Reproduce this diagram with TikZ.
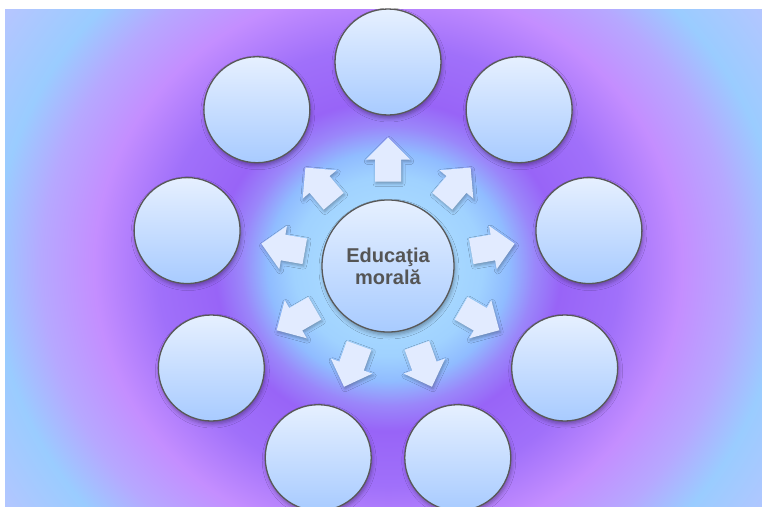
\documentclass[tikz,border=0pt]{standalone}
\usepackage{fontspec}
\setmainfont{Liberation Sans}
\usetikzlibrary{shadows.blur}
\definecolor{bg0}{HTML}{B4E4FF}
\definecolor{bg1}{HTML}{A0D2FF}
\definecolor{bg2}{HTML}{90BCFF}
\definecolor{bg3}{HTML}{9A86FA}
\definecolor{bg4}{HTML}{9864F7}
\definecolor{bg5}{HTML}{A070FA}
\definecolor{bg6}{HTML}{C48EFF}
\definecolor{bg7}{HTML}{B6A8FF}
\definecolor{bg8}{HTML}{9ACCFF}
\definecolor{bg9}{HTML}{BCC4FF}
\definecolor{circtop}{HTML}{E6F0FF}
\definecolor{circbot}{HTML}{A8CBFF}
\definecolor{circline}{HTML}{585858}
\definecolor{arrowc}{HTML}{E2EBFF}
\definecolor{txt}{HTML}{555555}
\pgfdeclareradialshading{bgshade}{\pgfpoint{0bp}{0bp}}{%
color(0bp)=(bg0); color(4.5bp)=(bg1); color(5.75bp)=(bg2); color(7bp)=(bg3);
color(8.25bp)=(bg4); color(11bp)=(bg5); color(14bp)=(bg6); color(16.5bp)=(bg7);
color(18.75bp)=(bg8); color(23bp)=(bg9); color(50bp)=(bg9)}
\begin{document}
\begin{tikzpicture}[x=1pt,y=1pt,
  bubble/.style={circle, draw=circline, line width=1.3pt, top color=circtop, bottom color=circbot,
    minimum size=106pt, inner sep=0pt,
    blur shadow={shadow xshift=1pt, shadow yshift=-3pt, shadow blur radius=4pt, shadow opacity=35}},
  hub/.style={bubble, minimum size=132pt, text=txt, font=\fontsize{20}{22}\selectfont\bfseries, align=center},
  blockarrow/.style={fill=arrowc,
    blur shadow={shadow xshift=1pt, shadow yshift=-2pt, shadow blur radius=3pt, shadow opacity=30}}]
\useasboundingbox (0,0) rectangle (762,-506);
\fill[white] (0,0) rectangle (762,-506);
\begin{scope}
  \clip (5,-9) rectangle (762,-506);
  \shade[shading=bgshade] (-137,-766) rectangle (913,234);
\end{scope}
\node[hub] (ctr) at (388,-266) {Educaţia\\morală};
\foreach \i/\a in {1/90,2/130,3/170,4/210,5/250,6/290,7/330,8/10,9/50}{
  \path (ctr.center) ++(\a:106.5) coordinate (ar\i);
  \fill[blockarrow, shift={(ar\i)}, rotate=\a]
    (-22,-13) -- (0,-13) -- (0,-22) -- (22,0) -- (0,22) -- (0,13) -- (-22,13) -- cycle;
  \node[bubble] (o\i) at ($(ctr.center)+(\a:204)$) {};
}
\end{tikzpicture}
\end{document}
